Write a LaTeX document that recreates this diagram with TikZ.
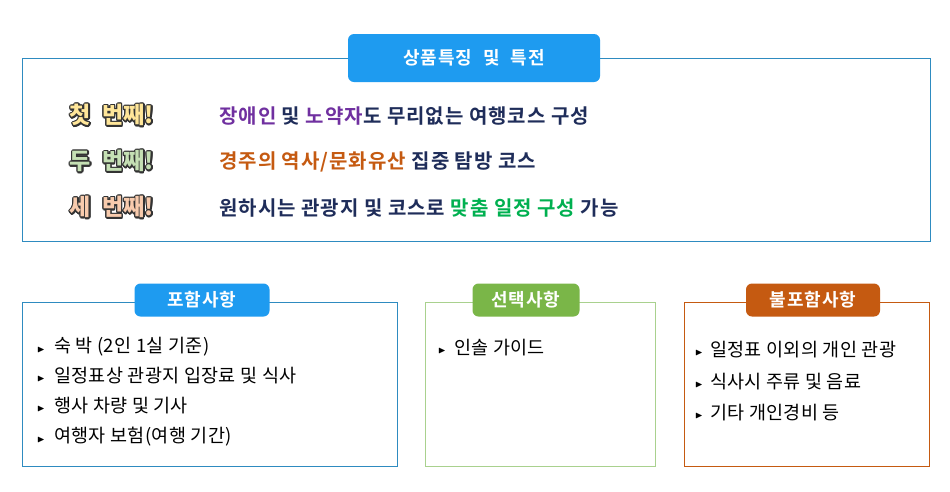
\documentclass[tikz,border=0pt]{standalone}
\usepackage{amssymb}
\usepackage{fontspec}
\usepackage{contour}
\newfontfamily\kr[LetterSpace=2]{Noto Sans CJK KR}
\newfontfamily\krb[LetterSpace=5]{Noto Sans CJK KR Bold}
\newfontfamily\krbb{Noto Sans CJK KR Black}
\definecolor{navy}{HTML}{1F2D5A}
\definecolor{pblue}{HTML}{1E9BF0}
\definecolor{fblue}{HTML}{2E8BC0}
\definecolor{purp}{HTML}{7030A0}
\definecolor{orng}{HTML}{C55A11}
\definecolor{grn}{HTML}{00B050}
\definecolor{lgrn}{HTML}{7AB648}
\definecolor{fgrn}{HTML}{A9D18E}
\definecolor{y1}{HTML}{FFE699}
\definecolor{g1}{HTML}{C5E0B4}
\definecolor{o1}{HTML}{F8CBAD}
\contourlength{1.3pt}
\tikzset{
 pill/.style={rounded corners=6pt,text=white,font=\krb\fontsize{18}{18}\selectfont,inner sep=0pt,minimum height=33pt},
 row/.style={anchor=west,text=navy,font=\krb\fontsize{20}{20}\selectfont,inner sep=0pt},
 badge/.style={font=\krbb\fontsize{23}{23}\selectfont,inner sep=0pt},
 item/.style={anchor=west,font=\kr\fontsize{18.5}{18.5}\selectfont,inner sep=0pt},
 bul/.style={anchor=west,font=\fontsize{10}{10}\selectfont,inner sep=0pt}
}
\newcommand{\bx}[2]{\contour{black!80}{\textcolor{#1}{#2}}}
\begin{document}
\begin{tikzpicture}[x=1pt,y=-1pt]
\useasboundingbox (0,0) rectangle (950,491);
\fill[white] (0,0) rectangle (950,491);
\draw[fblue,line width=0.8pt] (22,58) rectangle (930,241);
\node[pill,fill=pblue,minimum width=252pt,minimum height=48pt] (t) at (474,58) {상품특징\hspace{0.6em}및\hspace{0.6em}특전};
\node[badge] (b1) at (112,116) {\bx{y1}{첫\hspace{0.5em}번째!}};
\node[badge] (b2) at (112,162) {\bx{g1}{두\hspace{0.5em}번째!}};
\node[badge] (b3) at (112,208) {\bx{o1}{세\hspace{0.5em}번째!}};
\node[row] (r1) at (219,116) {\textcolor{purp}{장애인} 및 \textcolor{purp}{노약자}도 무리없는 여행코스 구성};
\node[row] (r2) at (219,162) {\textcolor{orng}{경주의 역사/문화유산} 집중 탐방 코스};
\node[row] (r3) at (219,208) {원하시는 관광지 및 코스로 \textcolor{grn}{맞춤 일정 구성} 가능};
% boxes
\draw[fblue,line width=0.8pt] (22,302) rectangle (397,466);
\draw[fgrn,line width=0.8pt] (425,302) rectangle (655,466);
\draw[orng,line width=0.8pt] (684,302) rectangle (929,466);
\node[pill,fill=pblue,minimum width=135pt] (p1) at (202,300) {포함사항};
\node[pill,fill=lgrn,minimum width=107pt] (p2) at (526,300) {선택사항};
\node[pill,fill=orng,minimum width=134pt] (p3) at (813,300) {불포함사항};
\foreach \y/\t [count=\i] in {347/숙 박 (2인 1실 기준),376/일정표상 관광지 입장료 및 식사,406/행사 차량 및 기사,437/여행자 보험(여행 기간)}{
 \node[bul] (a\i) at (37,\y+3) {$\blacktriangleright$};
 \node[item] (ai\i) at (54,\y) {\t};}
\node[bul] (c1) at (438,351) {$\blacktriangleright$};
\node[item] (ci1) at (454,348) {인솔 가이드};
\foreach \y/\t [count=\i] in {350/일정표 이외의 개인 관광,382/식사시 주류 및 음료,413/기타 개인경비 등}{
 \node[bul] (d\i) at (695,\y+3) {$\blacktriangleright$};
 \node[item] (di\i) at (710,\y) {\t};}
\end{tikzpicture}
\end{document}
